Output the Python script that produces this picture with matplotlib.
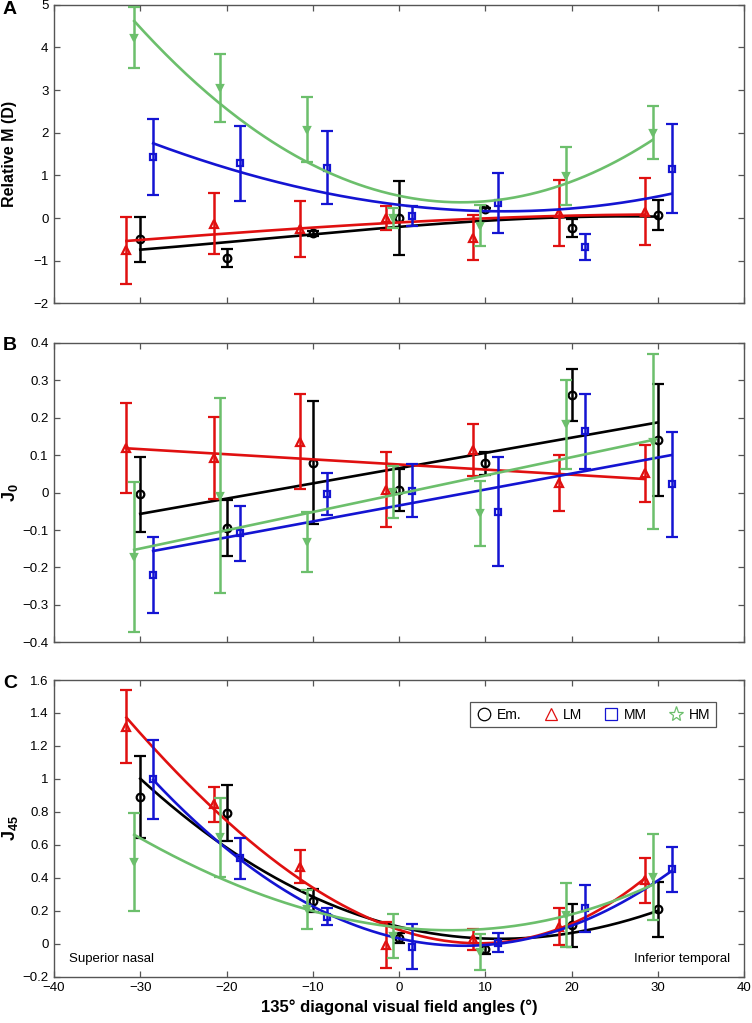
import numpy as np
import matplotlib
matplotlib.use('Agg')
import matplotlib.pyplot as plt
from matplotlib.lines import Line2D
from matplotlib.ticker import FuncFormatter

plt.rcParams['font.family'] = ['Liberation Sans', 'DejaVu Sans']
plt.rcParams['mathtext.fontset'] = 'custom'
plt.rcParams['mathtext.rm'] = 'Liberation Sans'
plt.rcParams['mathtext.bf'] = 'Liberation Sans:bold'

# groups and their (slightly shifted) field angles
groups = ['Em.', 'LM', 'MM', 'HM']
x_em = [-30, -20, -10, 0, 10, 20, 30]
x_lm = [-31.6, -21.5, -11.5, -1.5, 8.6, 18.6, 28.5]
x_mm = [-28.5, -18.4, -8.4, 1.5, 11.5, 21.6, 31.6]
x_hm = [-30.7, -20.8, -10.7, -0.7, 9.4, 19.4, 29.4]

# panel A: relative M (D)
m_em = [-0.50, -0.94, -0.36, 0.00, 0.20, -0.24, 0.07]
m_em_err = [0.52, 0.21, 0.06, 0.87, 0.04, 0.21, 0.35]
m_lm = [-0.76, -0.13, -0.25, 0.00, -0.46, 0.12, 0.15]
m_lm_err = [0.79, 0.72, 0.66, 0.28, 0.52, 0.78, 0.78]
m_mm = [1.43, 1.28, 1.18, 0.04, 0.35, -0.68, 1.16]
m_mm_err = [0.90, 0.87, 0.86, 0.23, 0.70, 0.30, 1.05]
m_hm = [4.23, 3.05, 2.07, 0.00, -0.18, 0.98, 2.00]
m_hm_err = [0.72, 0.80, 0.76, 0.24, 0.48, 0.68, 0.62]

m_fit_em = ([-30, -20, -10, 0, 10, 20, 30], [-0.74, -0.57, -0.39, -0.20, -0.05, 0.00, 0.04])
m_fit_lm = ([-31.6, -21.5, -11.5, -1.5, 8.6, 18.6, 28.5], [-0.54, -0.38, -0.25, -0.12, -0.02, 0.05, 0.08])
m_fit_mm = ([-28.5, -18.4, -10, 0, 10, 20, 31.6], [1.75, 1.08, 0.65, 0.30, 0.17, 0.22, 0.57])
m_fit_hm = ([-30.7, -20.8, -10.7, -0.7, 9.0, 19.4, 29.4], [4.62, 2.69, 1.28, 0.62, 0.33, 0.82, 1.83])

# panel B: J0
j0_em = [-0.005, -0.094, 0.080, 0.007, 0.078, 0.260, 0.140]
j0_em_err = [0.100, 0.075, 0.165, 0.057, 0.030, 0.070, 0.150]
j0_lm = [0.120, 0.092, 0.136, 0.007, 0.114, 0.025, 0.051]
j0_lm_err = [0.120, 0.110, 0.127, 0.100, 0.070, 0.075, 0.075]
j0_mm = [-0.220, -0.109, -0.004, 0.005, -0.051, 0.163, 0.022]
j0_mm_err = [0.102, 0.073, 0.055, 0.070, 0.146, 0.100, 0.140]
j0_hm = [-0.173, -0.009, -0.131, 0.002, -0.055, 0.182, 0.136]
j0_hm_err = [0.200, 0.260, 0.080, 0.070, 0.087, 0.118, 0.233]

j0_fit_em = ([-30, 30], [-0.057, 0.187])
j0_fit_lm = ([-31.6, 28.5], [0.118, 0.036])
j0_fit_mm = ([-28.5, 31.6], [-0.156, 0.100])
j0_fit_hm = ([-30.7, 29.4], [-0.153, 0.140])

# panel C: J45
j45_em = [0.892, 0.795, 0.261, 0.033, -0.034, 0.113, 0.208]
j45_em_err = [0.250, 0.170, 0.070, 0.030, 0.030, 0.130, 0.165]
j45_lm = [1.317, 0.846, 0.467, -0.008, 0.027, 0.103, 0.386]
j45_lm_err = [0.220, 0.105, 0.100, 0.140, 0.065, 0.113, 0.137]
j45_mm = [0.997, 0.518, 0.164, -0.018, 0.007, 0.215, 0.451]
j45_mm_err = [0.240, 0.123, 0.050, 0.135, 0.060, 0.143, 0.137]
j45_hm = [0.498, 0.645, 0.209, 0.047, -0.049, 0.174, 0.403]
j45_hm_err = [0.297, 0.240, 0.117, 0.133, 0.109, 0.194, 0.260]

j45_fit_em = ([-30, -20, -10, 0, 10, 20, 30], [1.00, 0.59, 0.275, 0.11, 0.03, 0.065, 0.20])
j45_fit_lm = ([-31.6, -21.5, -11.5, -1.6, 8.6, 18.6, 28.5], [1.357, 0.86, 0.37, 0.09, 0.022, 0.10, 0.39])
j45_fit_mm = ([-28.5, -18.4, -8.4, 1.5, 10, 21.6, 31.6], [0.99, 0.524, 0.174, 0.022, -0.018, 0.154, 0.437])
j45_fit_hm = ([-30.7, -20.8, -10.7, -0.7, 8.6, 19.4, 29.4], [0.659, 0.406, 0.204, 0.103, 0.083, 0.174, 0.356])

colors = ['#000000', '#e01010', '#1414d2', '#6cbf6c']
markers = ['o', '^', 's', 'v']
fills = ['none', 'none', 'none', '#6cbf6c']
msizes = [5.5, 5.5, 4.5, 5]
legend_markers = ['o', '^', 's', '*']
gray = '#555555'


def fmt(v, pos):
	s = '%g' % round(v, 6)
	if s == '-0':
		s = '0'
	return s.replace('-', '\u2212')


def draw_panel(ax, xs, means, errs, fits, ylim, yticks):
	for i in range(4):
		ax.errorbar(xs[i], means[i], yerr=errs[i], fmt=markers[i], color=colors[i],
			mfc=fills[i], mec=colors[i], ms=msizes[i], mew=1.6,
			elinewidth=1.8, capsize=4, capthick=1.8, zorder=3 + i)
		fx, fy = fits[i]
		deg = min(len(fx) - 1, 3)
		p = np.polyfit(fx, fy, deg)
		xx = np.linspace(fx[0], fx[-1], 200)
		ax.plot(xx, np.polyval(p, xx), color=colors[i], lw=1.9, zorder=3 + i)
	ax.set_xlim(-40, 40)
	ax.set_ylim(*ylim)
	ax.set_yticks(yticks)
	ax.set_xticks(range(-40, 41, 10))
	ax.yaxis.set_major_formatter(FuncFormatter(fmt))
	ax.xaxis.set_major_formatter(FuncFormatter(fmt))
	ax.tick_params(direction='in', top=True, right=True, length=4, width=0.9,
		color=gray, labelsize=9.5, pad=4)
	for s in ax.spines.values():
		s.set_color(gray)
		s.set_linewidth(1.0)


xs = [x_em, x_lm, x_mm, x_hm]

fig = plt.figure(figsize=(7.52, 10.23), dpi=100)
left = 54 / 752
width = 690 / 752

axA = fig.add_axes([left, 0.7035, width, 0.2919])
draw_panel(axA, xs, [m_em, m_lm, m_mm, m_hm], [m_em_err, m_lm_err, m_mm_err, m_hm_err],
	[m_fit_em, m_fit_lm, m_fit_mm, m_fit_hm], (-2, 5), range(-2, 6))
axA.tick_params(labelbottom=False)
axA.set_ylabel('Relative M (D)', fontsize=11.5, fontweight='bold')
axA.yaxis.set_label_coords(-0.053, 0.5)

axB = fig.add_axes([left, 0.372, width, 0.2931])
draw_panel(axB, xs, [j0_em, j0_lm, j0_mm, j0_hm], [j0_em_err, j0_lm_err, j0_mm_err, j0_hm_err],
	[j0_fit_em, j0_fit_lm, j0_fit_mm, j0_fit_hm], (-0.4, 0.4), np.round(np.arange(-0.4, 0.41, 0.1), 2))
axB.tick_params(labelbottom=False)
axB.set_ylabel(r'$\mathbf{J_0}$', fontsize=13)
axB.yaxis.set_label_coords(-0.05, 0.5)

axC = fig.add_axes([left, 0.04526, width, 0.29])
draw_panel(axC, xs, [j45_em, j45_lm, j45_mm, j45_hm], [j45_em_err, j45_lm_err, j45_mm_err, j45_hm_err],
	[j45_fit_em, j45_fit_lm, j45_fit_mm, j45_fit_hm], (-0.2, 1.6), np.round(np.arange(-0.2, 1.61, 0.2), 2))
axC.set_ylabel(r'$\mathbf{J_{45}}$', fontsize=13)
axC.yaxis.set_label_coords(-0.05, 0.5)
axC.set_xlabel('135\u00b0 diagonal visual field angles (\u00b0)', fontsize=12, fontweight='bold', labelpad=4)
axC.text(-38.3, -0.09, 'Superior nasal', fontsize=9.5, va='center', ha='left')
axC.text(38.4, -0.09, 'Inferior temporal', fontsize=9.5, va='center', ha='right')

handles = []
for i in range(4):
	handles.append(Line2D([], [], ls='none', marker=legend_markers[i], mfc='none',
		mec=colors[i], ms=11 if legend_markers[i] == '*' else 9, mew=0.9, label=groups[i]))
leg = axC.legend(handles=handles, ncol=4, loc='upper right', bbox_to_anchor=(0.959, 0.926),
	borderaxespad=0, fontsize=10, frameon=True, fancybox=False, framealpha=1,
	handletextpad=0.3, columnspacing=1.5, handlelength=1.2, borderpad=0.4)
leg.get_frame().set_edgecolor(gray)
leg.get_frame().set_linewidth(0.9)

for letter, ypx in [('A', 9), ('B', 346), ('C', 683)]:
	fig.text(3 / 752, 1 - ypx / 1023, letter, fontsize=14, fontweight='bold', va='center', ha='left')

fig.savefig('out.png', dpi=100)
